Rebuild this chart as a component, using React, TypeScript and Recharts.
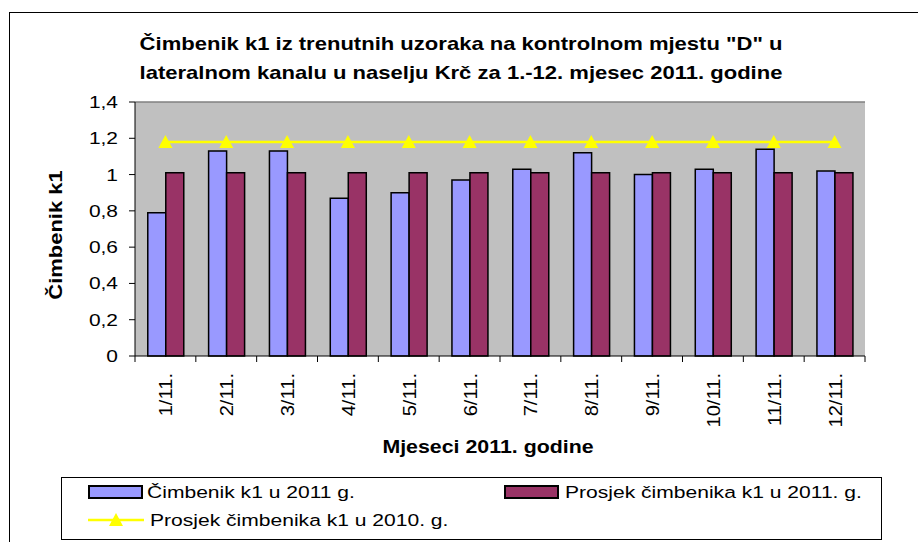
import React from 'react';
import { ComposedChart, Bar, Line, XAxis, YAxis, CartesianGrid, ReferenceLine, Label } from 'recharts';

const months = ['1/11.', '2/11.', '3/11.', '4/11.', '5/11.', '6/11.', '7/11.', '8/11.', '9/11.', '10/11.', '11/11.', '12/11.'];
const k1In2011 = [0.79, 1.13, 1.13, 0.87, 0.9, 0.97, 1.03, 1.12, 1.0, 1.03, 1.14, 1.02];
const avg2011 = [1.01, 1.01, 1.01, 1.01, 1.01, 1.01, 1.01, 1.01, 1.01, 1.01, 1.01, 1.01];
const avg2010 = [1.18, 1.18, 1.18, 1.18, 1.18, 1.18, 1.18, 1.18, 1.18, 1.18, 1.18, 1.18];
const yTicks = [0, 0.2, 0.4, 0.6, 0.8, 1, 1.2, 1.4];

const titleLines = [
  'Čimbenik k1 iz trenutnih uzoraka na kontrolnom mjestu "D" u',
  'lateralnom kanalu u naselju Krč za 1.-12. mjesec 2011. godine',
];
const seriesNames = ['Čimbenik k1 u 2011 g.', 'Prosjek čimbenika k1 u 2011. g.', 'Prosjek čimbenika k1 u 2010. g.'];

const data = months.map((m, i) => ({
  month: m,
  k1: k1In2011[i],
  avg2011: avg2011[i],
  avg2010: avg2010[i],
}));

const W = 918;
const H = 542;
const PLOT_LEFT = 135;
const PLOT_RIGHT = 865;
const PLOT_TOP = 102;
const PLOT_BOTTOM = 356;
const FONT = '"Liberation Sans", Arial, sans-serif';
const STRETCH = 1.3;

const BLUE = '#9999FF';
const PLUM = '#993366';
const YELLOW = '#FFFF00';

// text drawn a bit wider than Arial, like the original
function WideText({ x, y, size = 16, bold = false, anchor = 'start', rotate = 0, stretch = STRETCH, children }: any) {
  return (
    <text
      transform={`translate(${x},${y}) rotate(${rotate}) scale(${stretch},1)`}
      textAnchor={anchor}
      fontFamily={FONT}
      fontSize={size}
      fontWeight={bold ? 700 : 400}
      fill="#000"
    >
      {children}
    </text>
  );
}

const halfBand = (PLOT_RIGHT - PLOT_LEFT) / months.length / 2;

function MonthTick(props: any) {
  const { x, y, payload, index } = props;
  return (
    <g>
      <line x1={x - halfBand} x2={x - halfBand} y1={y} y2={y + 6} stroke="#000" />
      {index === months.length - 1 && <line x1={x + halfBand} x2={x + halfBand} y1={y} y2={y + 6} stroke="#000" />}
      <WideText x={x + 7} y={y + 17} size={18} rotate={-90} anchor="end" stretch={1.12}>
        {payload.value}
      </WideText>
    </g>
  );
}

function ValueTick(props: any) {
  const { x, y, payload } = props;
  const txt = String(Number(payload.value.toFixed(1))).replace('.', ',');
  return (
    <WideText x={x - 9} y={y + 6} size={16.5} anchor="end" stretch={1.27}>
      {txt}
    </WideText>
  );
}

function Triangle(props: any) {
  const { cx, cy } = props;
  if (cx == null || cy == null) return null;
  return <path d={`M${cx - 7},${cy + 6} L${cx},${cy - 7} L${cx + 7},${cy + 6} Z`} fill={YELLOW} />;
}

function Legend() {
  return (
    <svg width={W} height={H} style={{ position: 'absolute', left: 0, top: 0, pointerEvents: 'none' }}>
      {titleLines.map((t, i) => (
        <WideText key={t} x={461} y={50 + i * 29} size={17.5} bold anchor="middle" stretch={1.26}>
          {t}
        </WideText>
      ))}
      <rect x={61.5} y={477.5} width={820} height={62} fill="#fff" stroke="#000" />
      <rect x={89} y={486} width={53} height={12} fill={BLUE} stroke="#000" strokeWidth={2} />
      <WideText x={147} y={498} size={17} stretch={1.24}>{seriesNames[0]}</WideText>
      <rect x={505} y={486} width={53} height={12} fill={PLUM} stroke="#000" strokeWidth={2} />
      <WideText x={565} y={498} size={17} stretch={1.24}>{seriesNames[1]}</WideText>
      <line x1={88} x2={144} y1={520} y2={520} stroke={YELLOW} strokeWidth={2.5} />
      <path d="M109,526 L116,513 L123,526 Z" fill={YELLOW} />
      <WideText x={150} y={526} size={17} stretch={1.24}>{seriesNames[2]}</WideText>
    </svg>
  );
}

export default function App() {
  return (
    <div style={{ position: 'absolute', left: 0, top: 0, width: W, height: H, overflow: 'hidden', background: '#fff' }}>
      <div style={{ position: 'absolute', left: 9, top: 12, width: 1200, height: 1200, border: '1px solid #000' }} />
      <ComposedChart
        width={W}
        height={H}
        data={data}
        margin={{ top: PLOT_TOP, right: W - PLOT_RIGHT, bottom: H - PLOT_BOTTOM - 40, left: 0 }}
        barCategoryGap="21%"
        barGap={0}
        style={{ position: 'absolute', left: 0, top: 0 }}
      >
        <CartesianGrid fill="#C0C0C0" horizontal={false} vertical={false} />
        <ReferenceLine y={1.4} stroke="#808080" strokeWidth={1.5} />
        <XAxis
          dataKey="month"
          height={40}
          interval={0}
          axisLine={{ stroke: '#000' }}
          tickLine={false}
          tickSize={0}
          tickMargin={0}
          tick={<MonthTick />}
        >
          <Label
            content={() => (
              <WideText x={488} y={453} size={17.5} bold anchor="middle" stretch={1.22}>
                Mjeseci 2011. godine
              </WideText>
            )}
          />
        </XAxis>
        <YAxis
          width={PLOT_LEFT}
          domain={[0, 1.4]}
          ticks={yTicks}
          interval={0}
          axisLine={{ stroke: '#000' }}
          tickLine={{ stroke: '#000' }}
          tickSize={6}
          tick={<ValueTick />}
        >
          <Label
            content={() => (
              <WideText x={62} y={235} size={18} bold anchor="middle" rotate={-90} stretch={1.22}>
                Čimbenik k1
              </WideText>
            )}
          />
        </YAxis>
        <YAxis yAxisId="frame" orientation="right" width={0} domain={[0, 1.4]} tick={false} tickLine={false} axisLine={{ stroke: '#808080', strokeWidth: 1.5 }} />
        <Bar dataKey="k1" name={seriesNames[0]} fill={BLUE} stroke="#000" strokeWidth={1.5} isAnimationActive={false} />
        <Bar dataKey="avg2011" name={seriesNames[1]} fill={PLUM} stroke="#000" strokeWidth={1.5} isAnimationActive={false} />
        <Line
          dataKey="avg2010"
          name={seriesNames[2]}
          stroke={YELLOW}
          strokeWidth={2.5}
          dot={<Triangle />}
          activeDot={false}
          isAnimationActive={false}
        />
      </ComposedChart>
      <Legend />
    </div>
  );
}
